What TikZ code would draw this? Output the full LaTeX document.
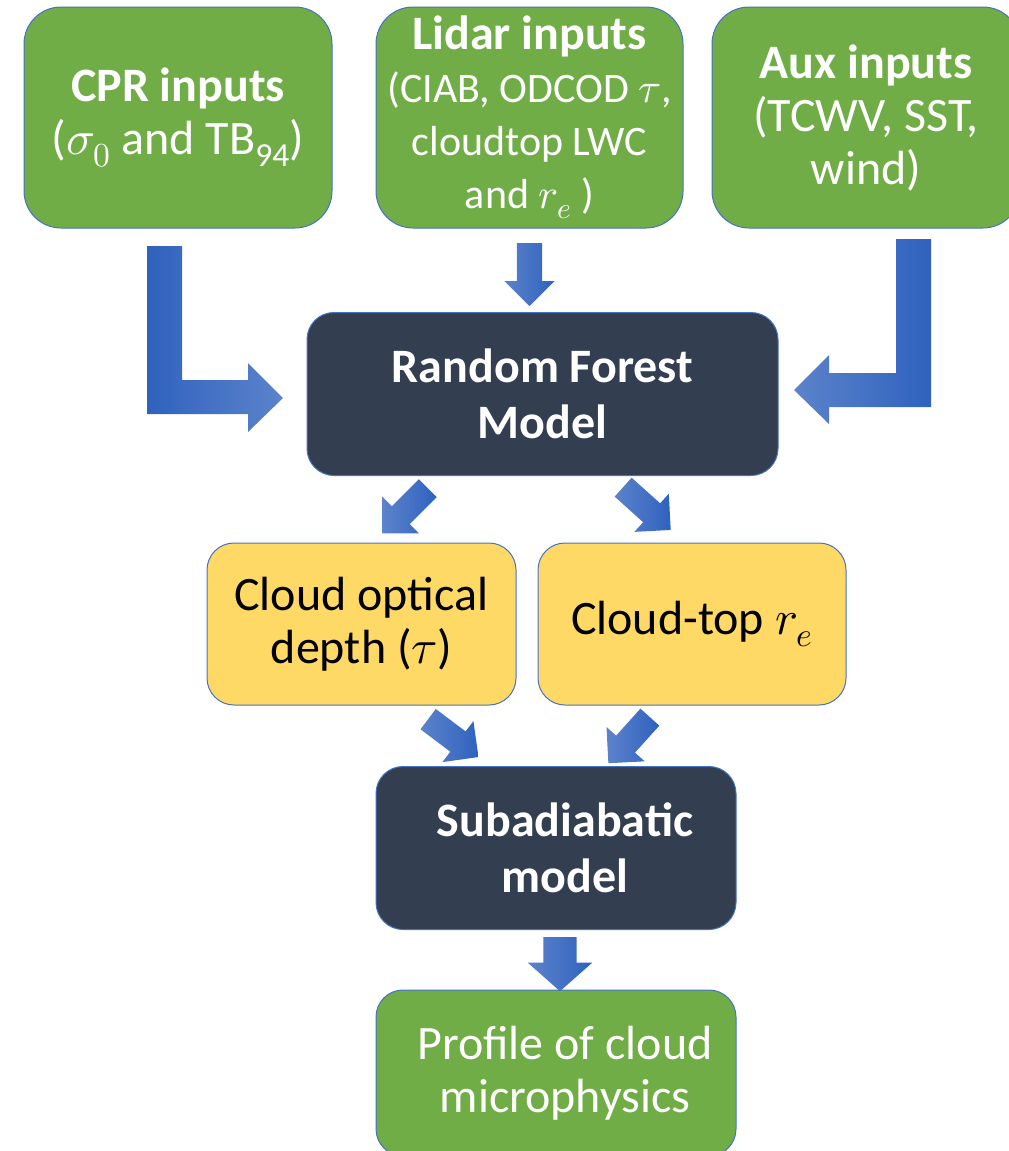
\documentclass[tikz,border=0pt]{standalone}
\usepackage{fontspec}
\usepackage{unicode-math}
\setmainfont{Carlito}
\setmathfont{Latin Modern Math}
\usetikzlibrary{shapes.arrows}

\definecolor{boxgreen}{HTML}{70AD47}
\definecolor{boxnavy}{HTML}{333F50}
\definecolor{boxgold}{HTML}{FFD966}
\definecolor{boxedge}{HTML}{4472C4}
\definecolor{arrdark}{HTML}{2F62BE}
\definecolor{arrlight}{HTML}{5C83CB}

\tikzset{
  box/.style={draw=boxedge, line width=1pt, align=center, inner sep=0pt,
    font=\fontsize{48}{53}\selectfont},
  inbox/.style={box, fill=boxgreen, text=white, rounded corners=37pt,
    minimum width=308pt, minimum height=221pt},
  modelbox/.style={box, fill=boxnavy, text=white, rounded corners=27pt,
    font=\fontsize{48}{56}\selectfont\bfseries, minimum height=163pt},
  outbox/.style={box, fill=boxgold, text=black, rounded corners=27pt,
    minimum width=309pt, minimum height=162pt},
  blockarr/.style 2 args={single arrow, draw=none, inner xsep=0pt, inner ysep=#1,
    single arrow head extend=#2, anchor=tail, left color=arrlight, right color=arrdark},
}

\begin{document}
\begin{tikzpicture}[x=1pt, y=-1pt]
  \path[use as bounding box] (0,0) rectangle (1009,1151);
  \clip (0,0) rectangle (1009,1151);

  % Input boxes
  \node[inbox] (cpr) at (178,117.5) {{\bfseries CPR inputs}\\($\sigma_0$ and TB\textsubscript{94})};
  \node[inbox, minimum width=307pt] (lidar) at (529.5,117.5)
    {{\bfseries Lidar inputs}\\\fontsize{42}{53}\selectfont(CIAB, ODCOD $\tau$,\\
     \fontsize{42}{53}\selectfont cloudtop LWC\\\fontsize{42}{51}\selectfont and $r_e$ )};
  \node[inbox] (aux) at (866,117.5) {{\bfseries Aux inputs}\\(TCWV, SST,\\wind)};

  % Models and outputs
  \node[modelbox, minimum width=471pt] (rf) at (542.5,394) {Random Forest\\Model};
  \node[outbox] (cod) at (361.5,624) {Cloud optical\\depth ($\tau$)};
  \node[outbox, minimum width=308pt] (ctr) at (692,624) {Cloud-top $r_e$};
  \node[modelbox, minimum width=360pt] (sub) at (556,848)
    {\hspace*{18pt}Subadiabatic\\\hspace*{18pt}model};
  \node[box, fill=boxgreen, text=white, rounded corners=27pt, minimum width=360pt,
    minimum height=166pt] (prof) at (556,1073)
    {\hspace*{18pt}Profile of cloud\\\hspace*{18pt}microphysics};

  % Bent arrows
  \path[left color=arrdark, right color=arrlight] (147,246) -- (182,246) -- (182,380)
    -- (248,380) -- (248,363) -- (283,398) -- (248,432) -- (248,414) -- (147,414) -- cycle;
  \path[left color=arrlight, right color=arrdark] (896,239) -- (931,239) -- (931,407)
    -- (829,407) -- (829,424) -- (794,390) -- (829,355) -- (829,373) -- (896,373) -- cycle;

  % Block arrows
  \node[blockarr={12.5pt}{12.5pt}, rotate=-90, minimum height=63pt] (lidararr) at (529.5,243) {};
  \node[blockarr={12.5pt}{13pt}, rotate=-135, minimum height=64pt] (codarr) at (428,488) {};
  \node[blockarr={12.5pt}{13pt}, rotate=-42, minimum height=64pt] (ctrarr) at (623,487) {};
  \node[blockarr={12.5pt}{13pt}, rotate=-37, minimum height=63pt] (subarrl) at (428,719) {};
  \node[blockarr={12.5pt}{13pt}, rotate=-132, minimum height=62pt] (subarrr) at (650,717) {};
  \node[blockarr={16.5pt}{15.5pt}, single arrow tip angle=97, rotate=-90,
    minimum height=54pt] (profarr) at (560,937) {};
\end{tikzpicture}
\end{document}
